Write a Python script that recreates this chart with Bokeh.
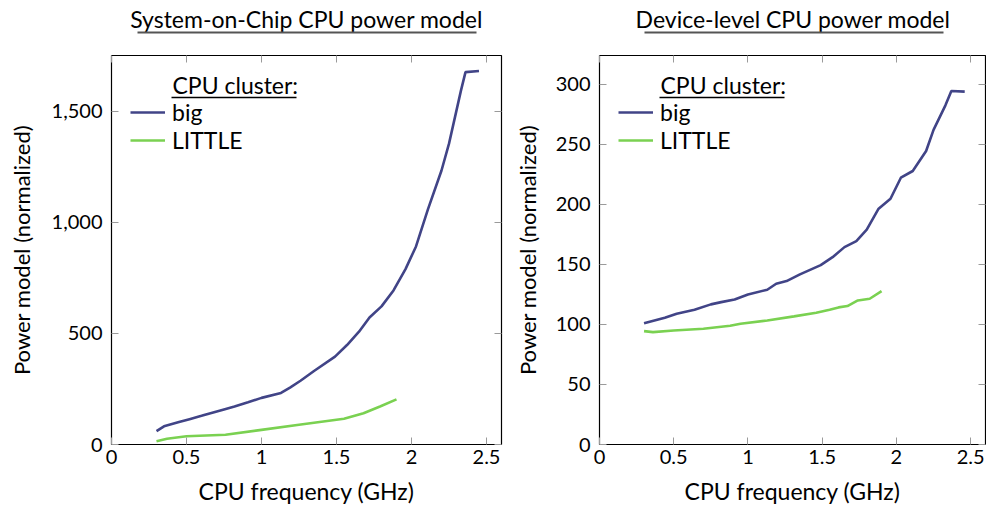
from bokeh.plotting import figure
from bokeh.layouts import row, column
from bokeh.models import (Range1d, FixedTicker, NumeralTickFormatter, CustomJSTickFormatter,
                          LinearAxis, Legend, LegendItem, Label, Arrow)
from bokeh.embed import file_html
from bokeh.resources import INLINE

FONT = "Lato"
BIG_COLOR = "#414487"
LITTLE_COLOR = "#7ad151"

# ---- data: System-on-Chip power model ----
soc_big_freq = [0.30, 0.35, 0.45, 0.52, 0.60, 0.66, 0.75, 0.82, 0.91, 1.00, 1.13, 1.19, 1.26,
                1.35, 1.49, 1.57, 1.65, 1.72, 1.80, 1.88, 1.96, 2.03, 2.11, 2.20, 2.25, 2.33,
                2.36, 2.45]
soc_big_power = [60, 82, 101, 114, 129, 141, 158, 171, 190, 210, 232, 256, 287,
                 331, 396, 448, 508, 572, 622, 694, 790, 892, 1060, 1234, 1355, 1595,
                 1677, 1682]
soc_little_freq = [0.30, 0.37, 0.50, 0.76, 1.00, 1.25, 1.55, 1.68, 1.79, 1.90]
soc_little_power = [15, 26, 37, 44, 66, 89, 116, 141, 171, 203]

# ---- data: device-level power model ----
dev_big_freq = [0.30, 0.37, 0.44, 0.52, 0.64, 0.75, 0.82, 0.91, 1.00, 1.13, 1.19, 1.26, 1.35,
                1.49, 1.57, 1.65, 1.73, 1.80, 1.88, 1.96, 2.03, 2.11, 2.20, 2.25, 2.33, 2.37,
                2.46]
dev_big_power = [101, 103.3, 105.6, 108.9, 112.2, 116.7, 118.6, 120.8, 125, 128.9, 133.9, 136.1,
                 141.7, 149.4, 156, 164.4, 169.4, 179, 196.4, 204.7, 222.2, 227.8, 244.5, 262,
                 282.5, 294.4, 293.9]
dev_little_freq = [0.30, 0.36, 0.50, 0.70, 0.88, 0.95, 1.13, 1.31, 1.46, 1.55, 1.61, 1.67,
                   1.74, 1.82, 1.90]
dev_little_power = [94.4, 93.6, 95, 96.4, 98.9, 100.6, 103.3, 106.7, 109.7, 112.2, 114.2, 115.3,
                    120, 121.4, 127.8]

x_ticks = [0, 0.5, 1, 1.5, 2, 2.5]
soc_y_ticks = [0, 500, 1000, 1500]
dev_y_ticks = [0, 50, 100, 150, 200, 250, 300]

X_END = 2.6
TITLE_H = 48
PLOT_H = 509 - TITLE_H
BORDER_TOP = 7
BORDER_BOTTOM = 65
FRAME_H = PLOT_H - BORDER_TOP - BORDER_BOTTOM
BASELINE_FIX = 8   # alphabetic-baseline correction for screen-placed labels


def style_axis(axis, ticks, formatter, labelled):
    axis.ticker = FixedTicker(ticks=ticks)
    axis.axis_line_color = None
    axis.major_tick_line_color = "#9a9a9a"
    axis.major_tick_line_width = 1
    axis.major_tick_in = 7
    axis.major_tick_out = 0
    axis.minor_tick_line_color = None
    if labelled:
        axis.formatter = formatter
        axis.major_label_text_font = FONT
        axis.major_label_text_font_size = "20px"
        axis.major_label_text_color = "black"
        axis.axis_label_text_font = FONT
        axis.axis_label_text_font_style = "normal"
        axis.axis_label_text_color = "black"
    else:
        axis.formatter = CustomJSTickFormatter(code="return '';")
        axis.major_label_text_font_size = "0px"
        axis.major_label_standoff = 0


def make_title(text, width, frame_w, span):
    """Underlined heading strip drawn above a panel (its frame lines up with the panel's)."""
    t = figure(width=width, height=TITLE_H, x_range=Range1d(0, 1), y_range=Range1d(0, 1),
               x_axis_type=None, y_axis_type=None, output_backend="svg",
               toolbar_location=None, min_border=0, outline_line_color=None,
               background_fill_color="white", border_fill_color="white")
    t.grid.visible = False
    t.add_layout(Label(x=frame_w / 2, y=TITLE_H - 26 + BASELINE_FIX, x_units="screen",
                       y_units="screen", text=text, text_font=FONT, text_font_size="23px",
                       text_color="black", text_baseline="alphabetic", text_align="center"))
    t.add_layout(Arrow(x_start=span[0], y_start=TITLE_H - 32, x_end=span[1],
                       y_end=TITLE_H - 32, start_units="screen", end_units="screen",
                       start=None, end=None, line_color="#555555", line_width=1.8))
    return t


def make_panel(big_f, big_p, lit_f, lit_p, y_end, y_ticks,
               width, border_left, border_right, y_label_standoff):
    p = figure(width=width, height=PLOT_H,
               x_range=Range1d(0, X_END), y_range=Range1d(0, y_end),
               output_backend="svg", toolbar_location=None,
               min_border_left=border_left, min_border_right=border_right,
               min_border_top=BORDER_TOP, min_border_bottom=BORDER_BOTTOM,
               background_fill_color="white", border_fill_color="white")
    p.grid.visible = False
    p.outline_line_color = "black"
    p.outline_line_width = 1.2

    r_big = p.line(big_f, big_p, line_color=BIG_COLOR, line_width=2.6)
    r_little = p.line(lit_f, lit_p, line_color=LITTLE_COLOR, line_width=2.6)

    # labelled axes
    style_axis(p.xaxis[0], x_ticks, CustomJSTickFormatter(code="return tick.toString();"), True)
    p.xaxis[0].axis_label = "CPU frequency (GHz)"
    p.xaxis[0].axis_label_text_font_size = "23px"
    p.xaxis[0].major_label_standoff = 5
    p.xaxis[0].axis_label_standoff = 10
    style_axis(p.yaxis[0], y_ticks, NumeralTickFormatter(format="0,0"), True)
    p.yaxis[0].axis_label = "Power model (normalized)"
    p.yaxis[0].axis_label_text_font_size = "22px"
    p.yaxis[0].major_label_standoff = 9
    p.yaxis[0].axis_label_standoff = y_label_standoff

    # mirrored ticks on the top and right edges
    top = LinearAxis()
    style_axis(top, x_ticks, None, False)
    p.add_layout(top, "above")
    right = LinearAxis()
    style_axis(right, y_ticks, None, False)
    p.add_layout(right, "right")

    # legend entries
    legend = Legend(items=[LegendItem(label="big", renderers=[r_big]),
                           LegendItem(label="LITTLE", renderers=[r_little])],
                    location=(19, FRAME_H - 43 - 56), padding=0, margin=0, spacing=0,
                    label_height=28, glyph_height=28, glyph_width=35, label_standoff=7,
                    background_fill_alpha=0, border_line_color=None,
                    label_text_font=FONT, label_text_font_size="23px",
                    label_text_color="black")
    p.add_layout(legend)

    # legend heading, underlined
    p.add_layout(Label(x=61, y=FRAME_H - 37 + BASELINE_FIX, x_units="screen", y_units="screen",
                       text="CPU cluster:", text_font=FONT, text_font_size="23px",
                       text_color="black", text_baseline="alphabetic", text_align="left"))
    p.add_layout(Arrow(x_start=60, y_start=FRAME_H - 42, x_end=185, y_end=FRAME_H - 42,
                       start_units="screen", end_units="screen", start=None, end=None,
                       line_color="black", line_width=1.3))
    return p


t_soc = make_title("System-on-Chip CPU power model", 510, 390, (26, 365))
p_soc = make_panel(soc_big_freq, soc_big_power, soc_little_freq, soc_little_power,
                   1752, soc_y_ticks, width=510, border_left=111, border_right=9,
                   y_label_standoff=14)
t_dev = make_title("Device-level CPU power model", 476, 387, (45, 344))
p_dev = make_panel(dev_big_freq, dev_big_power, dev_little_freq, dev_little_power,
                   324, dev_y_ticks, width=476, border_left=88, border_right=1,
                   y_label_standoff=12)

layout = row(column(t_soc, p_soc), column(t_dev, p_dev))
open("out.html", "w").write(file_html(layout, INLINE))
